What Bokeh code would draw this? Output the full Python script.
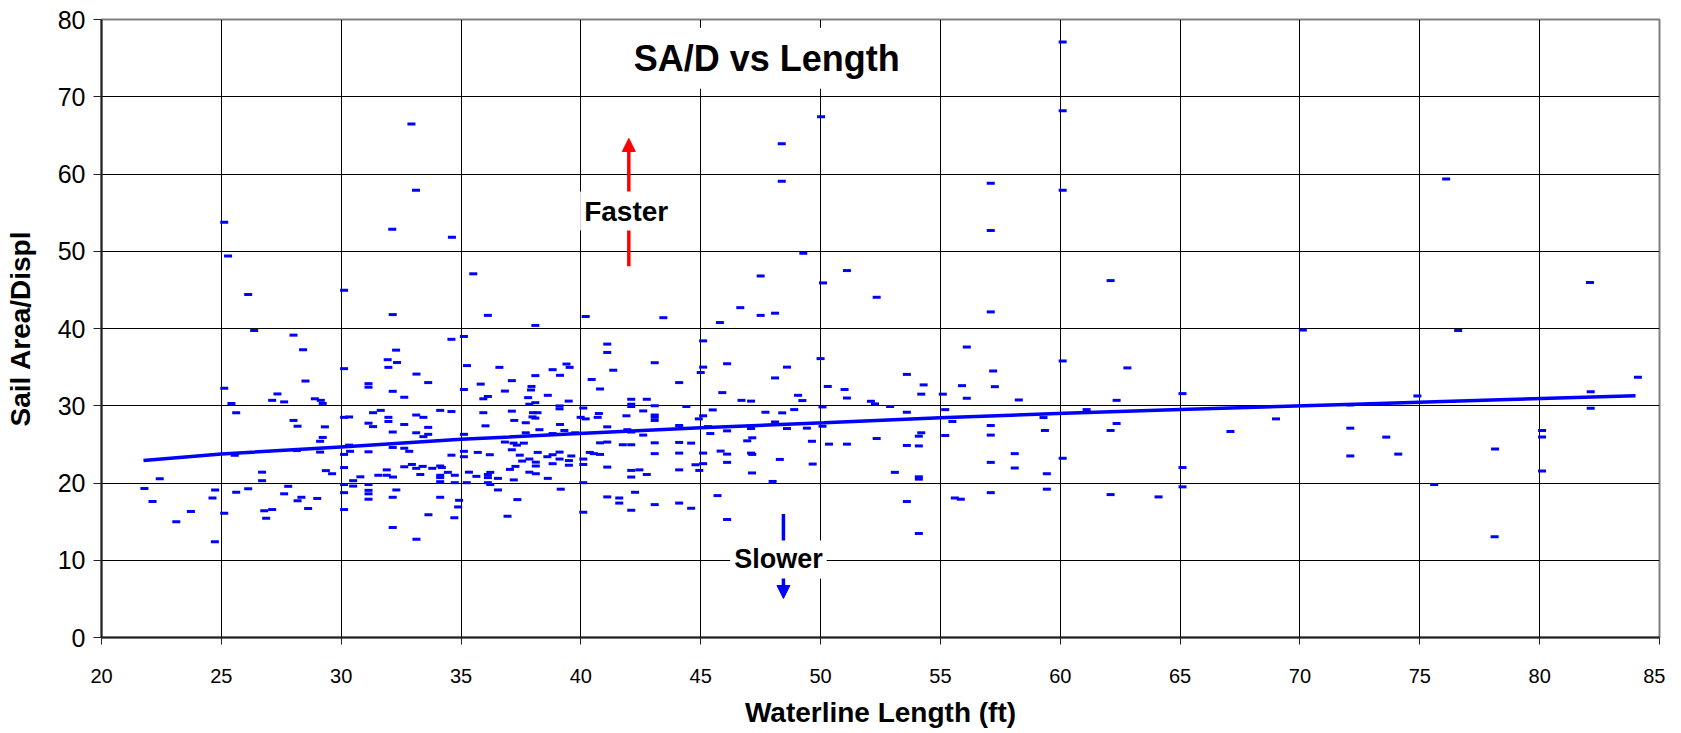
from bokeh.plotting import figure
from bokeh.models import (ColumnDataSource, Range1d, FixedTicker, Label, Arrow,
                          NormalHead)
from bokeh.embed import file_html
from bokeh.resources import INLINE

# ---- data ----
lwl = [
    # ~20-30.5 ft
    26.12, 30.12, 26.37, 28.01, 28.41, 30.12, 28.51, 25.12, 27.34, 27.12, 27.62, 25.42, 28.9, 29.15, 29.23,
    25.62, 28.01, 28.18, 29.32, 30.12, 30.33, 29.23, 29.12, 30.33, 25.56, 28.15, 29.12, 30.12, 30.37, 30.12,
    26.7, 26.7, 29.36, 29.62, 22.43, 21.79, 22.13, 24.74, 24.63, 25.62, 26.12, 27.79, 27.62, 28.34, 28.18,
    29.0, 28.62, 30.12, 30.12, 30.12, 30.5, 23.73, 23.12, 25.12, 26.79, 27.12, 26.87, 24.73,
    # upper left
    32.93, 33.12, 25.12, 32.13, 34.62, 25.28, 35.51,
    # ~30.5-40.5 ft, upper
    32.15, 36.12, 40.2, 38.1, 34.6, 35.12, 32.29, 31.94, 32.33, 31.97, 33.14, 33.63, 31.14, 31.14, 32.15,
    32.63, 35.25, 35.12, 35.82, 35.93, 36.12, 36.6, 37.12, 36.83, 38.1, 37.94, 37.92, 37.8, 37.85, 38.1,
    38.62, 38.82, 39.13, 39.4, 39.53, 39.49, 39.11, 39.11, 40.45, 40.1,
    # ~30.5-40.5 ft, middle
    31.33, 31.65, 31.97, 31.97, 31.14, 31.33, 32.15, 32.63, 33.13, 33.43, 33.63, 33.13, 33.43, 33.63, 34.13,
    34.6, 35.12, 35.93, 36.02, 37.12, 37.22, 37.7, 37.98, 38.1, 38.0, 38.19, 39.13, 39.31, 38.27, 37.7,
    38.82, 39.76, 39.99, 40.2,
    # ~30.5-40.5 ft, lower
    31.14, 32.15, 32.63, 32.84, 34.6, 35.12, 35.12, 35.7, 36.2, 36.83, 37.19, 37.33, 37.62, 37.12, 37.45,
    37.55, 37.85, 38.12, 38.2, 38.6, 38.82, 39.11, 39.11, 38.82, 39.5, 39.5, 39.6, 40.1, 40.1, 40.37,
    37.27, 37.04, 38.12, 37.85, 38.12, 38.62, 37.2, 36.54, 36.22, 36.12, 36.12, 36.12, 36.22, 35.64, 35.33,
    35.24, 34.74, 34.74, 34.45, 34.13, 34.2, 34.13, 34.13, 34.13, 33.8, 33.4, 33.13, 33.3, 32.95, 32.63,
    31.9, 31.9, 32.16, 31.55, 30.8, 30.5, 31.14, 31.14, 31.14, 31.14, 32.3, 32.15, 34.13, 34.92, 34.88,
    34.72, 33.64, 32.15, 33.14, 36.54, 37.35, 36.94, 39.16, 40.1, 40.1,
    # ~40.5-50.5 ft
    43.44, 46.65, 45.8, 47.5, 48.1, 45.1, 41.1, 41.1, 43.08, 41.35, 40.8, 44.1, 45.1, 45.0, 46.1,
    48.6, 48.1, 50.0, 50.3, 45.9, 42.1, 42.1, 42.1, 42.75, 43.08, 43.08, 43.08, 43.08, 42.6, 41.9,
    40.75, 40.7, 41.1, 44.4, 44.1, 44.92, 45.1, 45.5, 46.7, 47.1, 47.7, 48.4, 48.9, 49.06, 49.24,
    50.08, 45.3, 45.4, 46.1, 47.1, 48.1, 48.6, 49.43, 50.08, 42.1, 42.6, 41.94, 40.8, 41.1, 41.75,
    42.1, 43.08, 44.1, 44.6, 46.94, 47.15, 49.64, 50.35, 40.54, 40.8, 41.1, 43.08, 44.1, 45.1, 44.78,
    45.1, 44.94, 44.1, 42.1, 42.44, 42.75, 42.1, 45.83, 46.1, 46.1, 47.1, 47.15, 48.3, 49.67, 47.14,
    48.0, 41.1, 41.6, 41.6, 42.26, 42.1, 43.08, 44.1, 44.6, 45.7, 46.1,
    # upper middle
    50.02, 48.38, 48.38, 60.1, 60.1, 60.1, 57.1, 57.1, 49.28, 47.5, 50.1, 51.1,
    76.1, 62.1, 82.1,
    # ~50.5-60.5 ft
    52.34, 57.1, 56.1, 60.1, 57.2, 53.6, 54.3, 51.0, 51.1, 54.2, 55.1, 55.9, 57.27, 56.1, 58.27,
    52.1, 52.27, 52.9, 53.6, 55.2, 55.5, 57.1, 59.3, 59.36, 54.2, 54.1, 52.34, 51.1, 53.6, 54.1,
    55.2, 57.1, 58.1, 57.1, 58.1, 60.1, 53.1, 54.1, 54.1, 59.44, 59.44, 57.1, 55.6, 55.85, 53.6, 54.1,
    # ~60.5-72.5 ft
    70.12, 62.8, 65.1, 62.35, 61.1, 62.35, 62.1, 67.1, 69.0, 72.1, 72.1, 72.1, 65.1, 65.1, 62.1, 64.1,
    # ~72.5-85 ft
    76.6, 84.1, 74.9, 82.13, 82.13, 80.1, 80.1, 73.6, 74.1, 78.14, 80.1, 75.6, 78.12,
]
sad = [
    44.4, 44.95, 39.74, 39.14, 37.25, 34.8, 33.2, 32.26, 31.53, 30.7, 30.5, 30.28, 30.9, 30.7, 30.3,
    29.1, 28.1, 27.35, 27.27, 28.5, 28.55, 25.9, 25.4, 24.9, 23.6, 24.2, 24.0, 23.7, 24.1, 22.0,
    21.4, 20.3, 21.6, 21.2, 20.56, 19.3, 17.6, 19.1, 18.06, 18.8, 19.27, 19.57, 18.6, 18.15, 17.7,
    18.0, 16.7, 19.8, 18.75, 16.56, 20.3, 16.3, 15.0, 16.1, 16.4, 16.56, 15.44, 12.4,
    66.46, 57.9, 53.74, 52.84, 51.8, 49.4, 47.08,
    41.8, 41.7, 41.55, 40.4, 38.6, 38.97, 37.2, 35.96, 35.6, 34.97, 34.1, 33.0, 32.86, 32.4, 31.87,
    31.1, 35.2, 32.1, 32.8, 30.9, 31.2, 34.97, 33.25, 31.9, 33.9, 32.5, 32.04, 31.05, 30.2, 30.4,
    31.35, 34.67, 33.94, 35.4, 34.97, 30.6, 29.98, 29.6, 33.4, 29.7,
    29.1, 29.4, 28.5, 27.96, 27.74, 27.3, 26.6, 27.57, 28.8, 28.5, 27.2, 26.5, 26.0, 26.3, 29.4,
    29.25, 26.3, 29.1, 27.4, 29.3, 28.1, 27.8, 28.56, 28.4, 29.1, 29.1, 27.57, 26.8, 26.9, 26.5,
    26.4, 26.5, 28.5, 28.3,
    24.04, 24.6, 24.5, 24.1, 23.6, 24.1, 23.4, 23.96, 23.66, 25.3, 25.16, 24.9, 25.16, 24.3, 23.6,
    22.84, 23.1, 22.7, 23.96, 23.4, 23.66, 24.0, 23.1, 22.5, 22.9, 22.3, 23.5, 23.1, 22.4, 23.96,
    22.15, 21.76, 22.2, 21.4, 21.2, 20.6, 20.4, 20.6, 21.38, 21.1, 20.7, 20.04, 19.8, 20.86, 21.4,
    20.04, 21.0, 20.04, 21.38, 22.2, 22.0, 21.0, 20.7, 20.17, 21.9, 22.15, 21.9, 21.1, 22.4, 22.1,
    21.7, 21.0, 20.77, 21.0, 20.8, 19.6, 19.8, 19.05, 18.6, 17.9, 19.1, 18.15, 18.15, 17.76, 16.9,
    15.5, 15.9, 14.24, 12.73, 19.1, 17.85, 15.7, 19.2, 20.04, 16.2,
    41.4, 42.7, 40.77, 41.7, 41.98, 38.4, 37.98, 36.9, 35.57, 34.6, 32.17, 33.0, 35.0, 34.3, 35.44,
    35.0, 33.6, 36.1, 32.5, 31.7, 30.84, 30.2, 29.9, 30.84, 30.0, 28.8, 28.5, 28.1, 29.33, 28.7,
    29.0, 28.5, 27.27, 29.9, 27.44, 28.3, 28.7, 29.46, 30.7, 30.6, 29.16, 29.08, 29.5, 31.35, 30.67,
    29.85, 27.3, 26.4, 26.75, 27.05, 27.9, 27.05, 27.1, 27.35, 26.6, 26.2, 26.9, 25.2, 25.3, 24.95,
    24.95, 25.2, 25.25, 25.16, 25.46, 25.85, 25.4, 25.03, 23.8, 23.7, 22.06, 23.8, 23.87, 23.87, 22.36,
    22.5, 21.63, 21.7, 21.63, 21.7, 21.1, 20.77, 24.13, 23.74, 22.67, 23.87, 23.7, 23.05, 22.45, 21.3,
    20.2, 18.2, 18.06, 17.4, 18.8, 16.47, 17.2, 17.4, 16.73, 18.37, 15.27,
    67.4, 63.9, 59.07, 77.1, 68.2, 57.9, 58.8, 52.7, 49.75, 46.8, 45.9, 47.5,
    59.36, 46.2, 45.95,
    44.04, 42.15, 37.6, 35.8, 34.5, 34.06, 32.7, 32.1, 31.0, 31.5, 31.5, 32.6, 32.47, 30.97, 30.75,
    30.58, 30.24, 29.9, 29.16, 29.5, 27.96, 27.44, 28.47, 26.8, 26.5, 26.06, 25.76, 25.03, 24.86, 24.8,
    26.15, 26.2, 23.8, 22.67, 21.94, 23.2, 21.38, 20.8, 20.5, 21.2, 19.2, 18.75, 18.06, 17.9, 17.6, 13.46,
    39.8, 34.9, 31.57, 30.7, 29.5, 27.7, 26.8, 26.67, 28.3, 30.1, 27.1, 23.5, 22.0, 19.5, 18.5, 18.2,
    39.74, 33.7, 31.27, 31.8, 29.68, 26.8, 25.94, 25.94, 23.74, 24.4, 21.55, 19.8, 13.03,
]

# power trend line
trend_x = [21.75, 25, 30.33, 35, 40.14, 45, 50.14, 55, 60.17, 65, 72.27, 78, 84.0]
trend_y = [22.9, 23.75, 24.73, 25.65, 26.45, 27.15, 27.8, 28.45, 29.03, 29.5, 30.2, 30.75, 31.3]

x_ticks = [20, 25, 30, 35, 40, 45, 50, 55, 60, 65, 70, 75, 80, 85]
y_ticks = [0, 10, 20, 30, 40, 50, 60, 70, 80]

FONT = "Liberation Sans"
BLUE = "#0000FF"
RED = "#FF0000"

src = ColumnDataSource(data=dict(lwl=lwl, sad=sad))

p = figure(width=1665, height=730, output_backend="svg", toolbar_location=None,
           x_range=Range1d(20, 85), y_range=Range1d(0, 80),
           min_border_left=101, min_border_right=6, min_border_top=19, min_border_bottom=88,
           background_fill_color="white", border_fill_color="white")

p.outline_line_color = "#808080"
p.outline_line_width = 2

p.xaxis.ticker = FixedTicker(ticks=x_ticks)
p.yaxis.ticker = FixedTicker(ticks=y_ticks)
for ax in (p.xaxis, p.yaxis):
    ax.minor_tick_line_color = None
    ax.axis_line_color = "#222222"
    ax.axis_line_width = 2
    ax.major_tick_line_color = "#222222"
    ax.major_tick_line_width = 1
    ax.major_label_text_font = FONT
    ax.major_label_text_color = "black"
    ax.axis_label_text_font = FONT
    ax.axis_label_text_font_style = "bold"
    ax.axis_label_text_color = "black"
    ax.axis_label_text_font_size = "28px"

p.xaxis.major_tick_out = 7
p.xaxis.major_tick_in = 0
p.xaxis.major_label_text_font_size = "20px"
p.xaxis.major_label_standoff = 24
p.xaxis.axis_label = "Waterline Length (ft)"
p.xaxis.axis_label_standoff = 11

p.yaxis.major_tick_out = 8
p.yaxis.major_tick_in = 0
p.yaxis.major_label_text_font_size = "25px"
p.yaxis.major_label_standoff = 8
p.yaxis.axis_label = "Sail Area/Displ"
p.yaxis.axis_label_standoff = 19

p.xgrid.grid_line_color = "black"
p.ygrid.grid_line_color = "black"
p.xgrid.grid_line_width = 1
p.ygrid.grid_line_width = 1

# data marks
p.rect(x="lwl", y="sad", width=8, height=3, width_units="screen", height_units="screen",
       fill_color=BLUE, line_color=None, source=src)

# trend line
p.line(trend_x, trend_y, line_color=BLUE, line_width=3.5)

# title box
p.add_layout(Label(x=47.75, y=75.0, text="SA/D vs Length", text_font=FONT,
                   text_font_size="36px", text_font_style="bold", text_color="black",
                   text_align="center", text_baseline="middle",
                   background_fill_color="white", padding=10))

# Faster arrow + label
p.add_layout(Arrow(x_start=42.0, y_start=48.06, x_end=42.0, y_end=64.6,
                   line_color=RED, line_width=3.5,
                   end=NormalHead(size=13, fill_color=RED, line_color=RED)))
p.add_layout(Label(x=41.89, y=55.2, text="Faster", text_font=FONT,
                   text_font_size="28px", text_font_style="bold", text_color="black",
                   text_align="center", text_baseline="middle",
                   background_fill_color="white", padding=4))

# Slower arrow + label
p.add_layout(Arrow(x_start=48.45, y_start=16.0, x_end=48.45, y_end=5.05,
                   line_color=BLUE, line_width=3.5,
                   end=NormalHead(size=13, fill_color=BLUE, line_color=BLUE)))
p.add_layout(Label(x=48.24, y=10.1, text="Slower", text_font=FONT,
                   text_font_size="27px", text_font_style="bold", text_color="black",
                   text_align="center", text_baseline="middle",
                   background_fill_color="white", padding=4))

open("out.html", "w").write(file_html(p, INLINE))
